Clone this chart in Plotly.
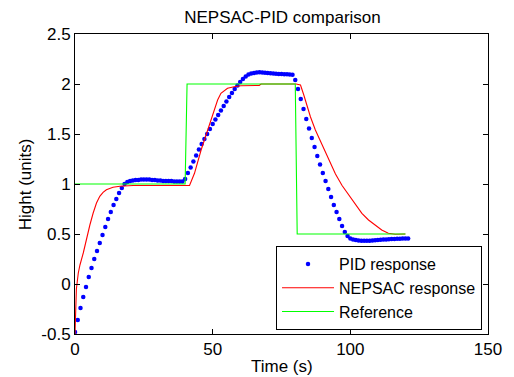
import plotly.graph_objects as go

# ---- data ----
pid_t = list(range(0, 122))
pid_y = [
    -0.48, -0.36, -0.24, -0.13, -0.03, 0.07, 0.16, 0.25, 0.33, 0.41,
    0.49, 0.57, 0.65, 0.72, 0.79, 0.85, 0.91, 0.96, 1.00, 1.02,
    1.03, 1.035, 1.04, 1.04, 1.045, 1.045, 1.045, 1.045, 1.04, 1.04,
    1.035, 1.035, 1.03, 1.03, 1.03, 1.03, 1.025, 1.025, 1.025, 1.025,
    1.05, 1.11, 1.165, 1.225, 1.285, 1.345, 1.40, 1.45, 1.50, 1.55,
    1.60, 1.645, 1.69, 1.735, 1.78, 1.825, 1.87, 1.91, 1.95, 1.985,
    2.02, 2.05, 2.075, 2.095, 2.105, 2.11, 2.115, 2.117, 2.115, 2.113,
    2.11, 2.108, 2.105, 2.103, 2.10, 2.10, 2.098, 2.097, 2.095, 2.093,
    2.04, 1.95, 1.85, 1.75, 1.65, 1.555, 1.46, 1.37, 1.28, 1.195,
    1.11, 1.03, 0.95, 0.87, 0.79, 0.72, 0.65, 0.58, 0.52, 0.48,
    0.455, 0.445, 0.44, 0.435, 0.432, 0.432, 0.432, 0.433, 0.435, 0.437,
    0.44, 0.442, 0.444, 0.446, 0.448, 0.45, 0.451, 0.452, 0.453, 0.454,
    0.455, 0.455,
]

nep_t = [0, 0.5, 1.2, 1.8, 3.0, 4.2, 5.4, 6.6, 7.8, 9.0, 10.2, 11.4, 13.8,
         16.3, 18.7, 21.1, 30, 41.6, 43.4, 45.8, 48.2, 49.4, 50.6, 51.8, 53.0,
         54.2, 55.4, 57.8, 60.2, 66.9, 67.6, 80.3, 81.9, 83.1, 84.3, 85.5, 87.3,
         89.7, 92.2, 94.6, 97.0, 99.4, 101.8, 104.2, 106.6, 109.0, 111.4,
         113.8, 116.3, 120]
nep_y = [-0.5, -0.05, 0.11, 0.19, 0.31, 0.46, 0.59, 0.71, 0.81, 0.877, 0.917,
         0.943, 0.967, 0.977, 0.982, 0.985, 0.985, 0.985, 1.107, 1.34, 1.54,
         1.64, 1.74, 1.84, 1.907, 1.933, 1.957, 1.973, 1.983, 1.985, 2.0, 2.0,
         1.99, 1.89, 1.773, 1.673, 1.54, 1.39, 1.24, 1.10, 0.985, 0.89, 0.79,
         0.707, 0.64, 0.59, 0.54, 0.507, 0.497, 0.5]

ref_t = [0, 40, 40.7, 80, 80.7, 120]
ref_y = [1, 1, 2, 2, 0.5, 0.5]

x_ticks = [0, 50, 100, 150]
y_ticks = [-0.5, 0, 0.5, 1, 1.5, 2, 2.5]
y_tick_text = ["-0.5", "0", "0.5", "1", "1.5", "2", "2.5"]

FONT = "Liberation Sans, Arial, Helvetica, sans-serif"

fig = go.Figure()
fig.add_trace(go.Scatter(x=pid_t, y=pid_y, mode="markers", name="PID response",
                         marker=dict(color="#0000ff", size=4.5)))
fig.add_trace(go.Scatter(x=nep_t, y=nep_y, mode="lines", name="NEPSAC response",
                         line=dict(color="#ff0000", width=1.1)))
fig.add_trace(go.Scatter(x=ref_t, y=ref_y, mode="lines", name="Reference",
                         line=dict(color="#00ff00", width=1.1)))

fig.update_layout(
    width=514, height=377,
    margin=dict(l=75, r=24, t=34, b=43),
    paper_bgcolor="white", plot_bgcolor="white",
    font=dict(family=FONT, size=17, color="black"),
    title=dict(text="NEPSAC-PID comparison", x=(75 + 490) / 2 / 514, xanchor="center",
               y=1 - 17.5 / 377, yanchor="middle", font=dict(size=17)),
    showlegend=True,
    legend=dict(x=(484 - 75) / 415, xanchor="right", y=(334 - 330) / 300, yanchor="bottom",
                bgcolor="white", bordercolor="black", borderwidth=1,
                font=dict(size=16), itemwidth=52, tracegroupgap=0),
)
fig.update_xaxes(range=[0, 150], tickvals=x_ticks, ticks="inside", ticklen=5,
                 showline=True, linecolor="black", linewidth=1, mirror="ticks",
                 showgrid=False, zeroline=False, tickcolor="black")
fig.update_yaxes(range=[-0.5, 2.5], tickvals=y_ticks, ticktext=y_tick_text,
                 ticks="inside", ticklen=5,
                 showline=True, linecolor="black", linewidth=1, mirror="ticks",
                 showgrid=False, zeroline=False, tickcolor="black")

fig.add_annotation(text="Time (s)", x=0.5, xref="paper",
                   y=(377 - 43 - 366) / 300.0, yref="paper", yanchor="middle",
                   showarrow=False)
fig.add_annotation(text="Hight (units)", x=(25 - 75) / 415, xref="paper",
                   y=0.5, yref="paper", yanchor="middle", xanchor="center",
                   textangle=-90, showarrow=False)

fig.write_html("out.html")
